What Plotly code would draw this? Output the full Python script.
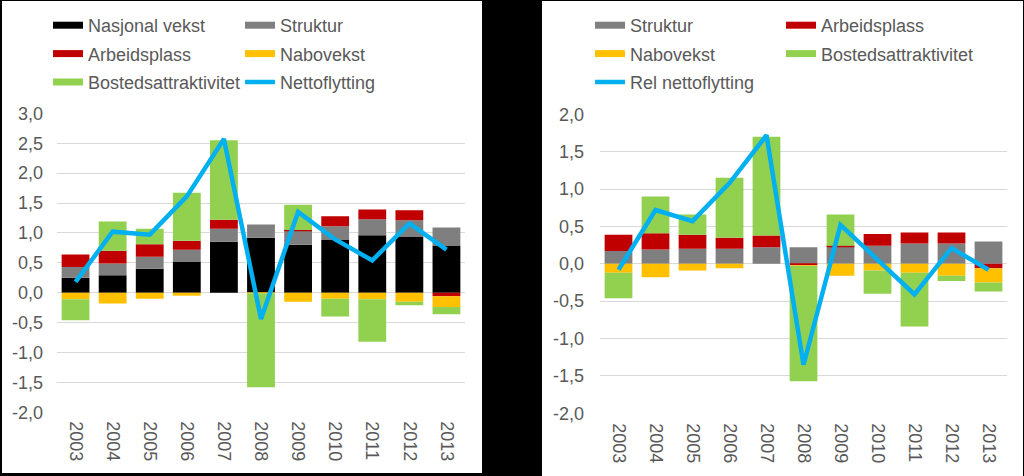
import plotly.graph_objects as go

years = [str(y) for y in range(2003, 2014)]

# Left panel (absolute contributions)
l_nasjonal = [0.25, 0.29, 0.40, 0.52, 0.85, 0.92, 0.80, 0.88, 0.96, 0.94, 0.79]
l_struktur = [0.18, 0.20, 0.20, 0.20, 0.22, 0.22, 0.24, 0.23, 0.27, 0.27, 0.30]
l_arbeid = [0.21, 0.21, 0.21, 0.15, 0.15, 0.00, 0.01, 0.17, 0.16, 0.17, -0.06]
l_nabo = [-0.11, -0.18, -0.10, -0.05, 0.00, -0.01, -0.15, -0.10, -0.11, -0.15, -0.18]
l_bosted = [-0.35, 0.49, 0.26, 0.80, 1.33, -1.57, 0.42, -0.30, -0.71, -0.06, -0.12]
l_netto = [0.18, 1.02, 0.97, 1.61, 2.57, -0.44, 1.35, 0.89, 0.54, 1.16, 0.72]

# Right panel (relative contributions)
r_struktur = [0.17, 0.19, 0.20, 0.20, 0.22, 0.22, 0.23, 0.24, 0.27, 0.27, 0.30]
r_arbeid = [0.22, 0.22, 0.19, 0.15, 0.16, -0.02, 0.01, 0.16, 0.15, 0.15, -0.06]
r_nabo = [-0.12, -0.18, -0.09, -0.06, 0.00, -0.01, -0.16, -0.09, -0.12, -0.16, -0.19]
r_bosted = [-0.34, 0.49, 0.27, 0.80, 1.32, -1.54, 0.42, -0.31, -0.72, -0.07, -0.12]
r_netto = [-0.08, 0.72, 0.57, 1.08, 1.72, -1.35, 0.52, 0.05, -0.41, 0.21, -0.08]

l_tickvals = [-2.0, -1.5, -1.0, -0.5, 0.0, 0.5, 1.0, 1.5, 2.0, 2.5, 3.0]
l_ticktext = ["-2,0", "-1,5", "-1,0", "-0,5", "0,0", "0,5", "1,0", "1,5", "2,0", "2,5", "3,0"]
r_tickvals = [-2.0, -1.5, -1.0, -0.5, 0.0, 0.5, 1.0, 1.5, 2.0]
r_ticktext = ["-2,0", "-1,5", "-1,0", "-0,5", "0,0", "0,5", "1,0", "1,5", "2,0"]

C_BLACK = "#000000"
C_GREY = "#7F7F7F"
C_RED = "#C00000"
C_YELLOW = "#FFC000"
C_GREEN = "#92D050"
C_BLUE = "#00B0F0"
TXT = "#595959"
FONT = "Liberation Sans, Arial, sans-serif"
FS = 18

fig = go.Figure()


def bar(name, vals, color, xa, ya):
    fig.add_trace(go.Bar(x=years, y=vals, name=name, marker=dict(color=color, line=dict(width=0)),
                         xaxis=xa, yaxis=ya, showlegend=False))


def legend_swatch(name, color, legend, group, rank):
    fig.add_trace(go.Scatter(x=[None], y=[None], mode="lines", name=name,
                             line=dict(color=color, width=7), legend=legend, legendgroup=group,
                             legendrank=rank, xaxis="x", yaxis="y", hoverinfo="skip"))


# left bars
bar("Nasjonal vekst", l_nasjonal, C_BLACK, "x", "y")
bar("Struktur", l_struktur, C_GREY, "x", "y")
bar("Arbeidsplass", l_arbeid, C_RED, "x", "y")
bar("Nabovekst", l_nabo, C_YELLOW, "x", "y")
bar("Bostedsattraktivitet", l_bosted, C_GREEN, "x", "y")

# right bars
bar("Struktur", r_struktur, C_GREY, "x2", "y2")
bar("Arbeidsplass", r_arbeid, C_RED, "x2", "y2")
bar("Nabovekst", r_nabo, C_YELLOW, "x2", "y2")
bar("Bostedsattraktivitet", r_bosted, C_GREEN, "x2", "y2")

# legend swatches
legend_swatch("Nasjonal vekst", C_BLACK, "legend", "l1", 1)
legend_swatch("Arbeidsplass", C_RED, "legend", "l3", 3)
legend_swatch("Bostedsattraktivitet", C_GREEN, "legend", "l5", 5)
legend_swatch("Struktur", C_GREY, "legend2", "l2", 2)
legend_swatch("Nabovekst", C_YELLOW, "legend2", "l4", 4)
legend_swatch("Struktur", C_GREY, "legend3", "r1", 1)
legend_swatch("Nabovekst", C_YELLOW, "legend3", "r3", 3)
legend_swatch("Arbeidsplass", C_RED, "legend4", "r2", 2)
legend_swatch("Bostedsattraktivitet", C_GREEN, "legend4", "r4", 4)

# lines
fig.add_trace(go.Scatter(x=years, y=l_netto, mode="lines", name="Nettoflytting",
                         line=dict(color=C_BLUE, width=4.5), xaxis="x", yaxis="y",
                         legend="legend2", legendgroup="l6", legendrank=6))
fig.add_trace(go.Scatter(x=years, y=r_netto, mode="lines", name="Rel nettoflytting",
                         line=dict(color=C_BLUE, width=4.5), xaxis="x2", yaxis="y2",
                         legend="legend3", legendgroup="r5", legendrank=5))

W, H = 1024, 476


def px(x):
    return x / W


def py(y):
    return (H - y) / H


leg_common = dict(orientation="v", bgcolor="rgba(0,0,0,0)", borderwidth=0,
                  font=dict(family=FONT, size=FS, color=TXT), tracegroupgap=2,
                  xanchor="left", yanchor="top", itemwidth=30, traceorder="grouped")

axis_font = dict(family=FONT, size=FS, color=TXT)

fig.update_layout(
    width=W, height=H,
    margin=dict(l=0, r=0, t=0, b=0, autoexpand=False),
    paper_bgcolor="#000000",
    plot_bgcolor="rgba(0,0,0,0)",
    barmode="relative",
    bargap=0.25,
    font=dict(family=FONT, size=FS, color=TXT),
    legend=dict(x=px(48), y=py(7), **leg_common),
    legend2=dict(x=px(240), y=py(7), **leg_common),
    legend3=dict(x=px(590), y=py(7), **leg_common),
    legend4=dict(x=px(781), y=py(7), **leg_common),
    xaxis=dict(domain=[px(57), px(465)], anchor="y", type="category", tickangle=90,
               showgrid=False, showline=False, zeroline=False, ticks="", automargin=False,
               tickfont=axis_font, ticklabelstandoff=8, fixedrange=True),
    yaxis=dict(domain=[py(412.3), py(113.3)], anchor="x", range=[-2, 3],
               tickvals=l_tickvals, ticktext=l_ticktext, showgrid=True, automargin=False,
               gridcolor="#D9D9D9", gridwidth=1, zeroline=False, showline=False,
               ticks="", tickfont=axis_font, ticklabelstandoff=13, fixedrange=True),
    xaxis2=dict(domain=[px(600), px(1007)], anchor="y2", type="category", tickangle=90,
                showgrid=False, showline=False, zeroline=False, ticks="", automargin=False,
                tickfont=axis_font, ticklabelstandoff=9, fixedrange=True),
    yaxis2=dict(domain=[py(413.3), py(114.3)], anchor="x2", range=[-2, 2],
                tickvals=r_tickvals, ticktext=r_ticktext, showgrid=True, automargin=False,
                gridcolor="#D9D9D9", gridwidth=1, zeroline=False, showline=False,
                ticks="", tickfont=axis_font, ticklabelstandoff=15, fixedrange=True),
    shapes=[
        dict(type="rect", xref="paper", yref="paper", x0=px(2), x1=px(482), y0=py(473), y1=py(1),
             fillcolor="#FFFFFF", line=dict(width=0), layer="below"),
        dict(type="rect", xref="paper", yref="paper", x0=px(542), x1=px(1023), y0=py(476), y1=py(1),
             fillcolor="#FFFFFF", line=dict(width=0), layer="below"),
    ],
)

fig.write_html("out.html")
